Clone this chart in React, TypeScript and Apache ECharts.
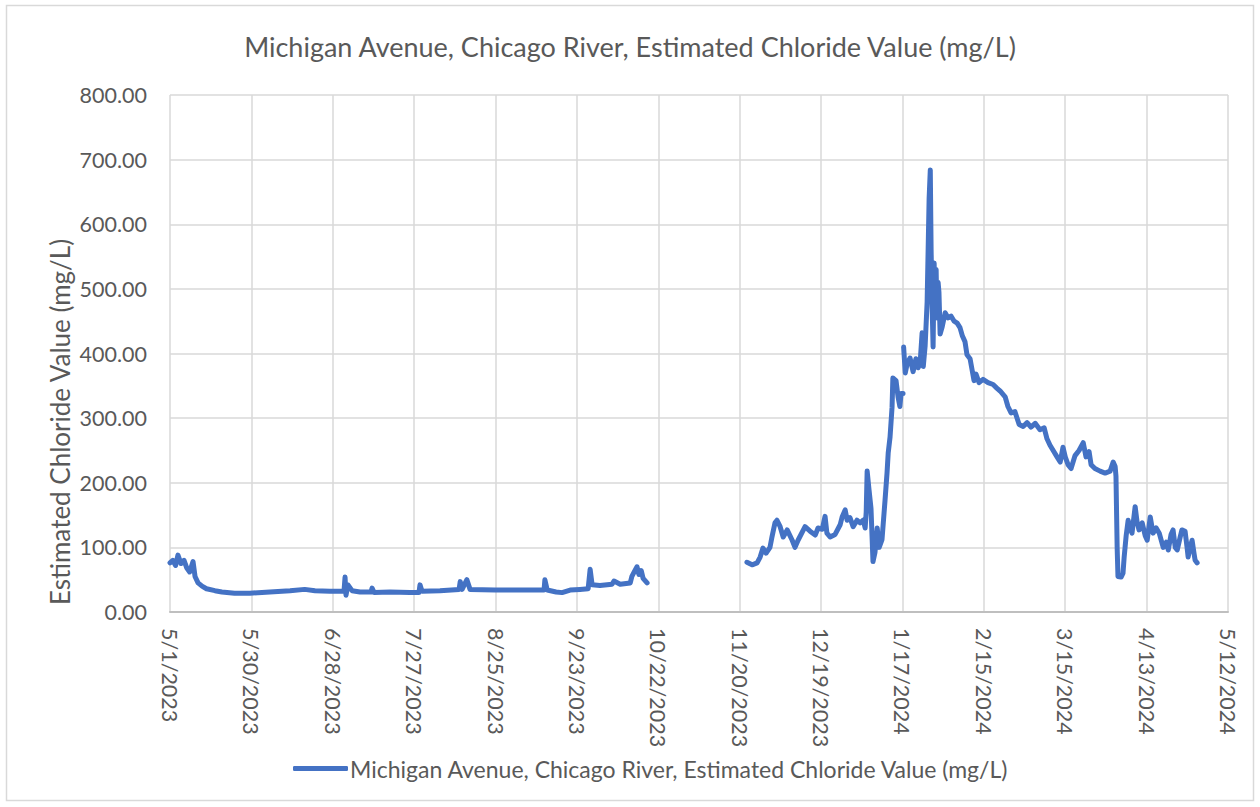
import React, { useEffect, useRef } from "react";
import * as echarts from "echarts";

const titleText = "Michigan Avenue, Chicago River, Estimated Chloride Value (mg/L)";
const yAxisTitle = "Estimated Chloride Value (mg/L)";
const startDate = "2023-05-01";
const axisDays = 377; // 5/1/2023 .. 5/12/2024
const tickStepDays = 29;
const yTicks = [0, 100, 200, 300, 400, 500, 600, 700, 800];

// Segment 1 (May - Oct 2023), gap, Segment 2 (Nov 2023 - May 2024)
const dates: string[] = [
  "2023-05-01", "2023-05-02", "2023-05-03", "2023-05-03 20:00", "2023-05-04 22:00", "2023-05-06",
  "2023-05-07", "2023-05-08", "2023-05-09 05:00", "2023-05-09 22:00", "2023-05-11", "2023-05-12 10:00",
  "2023-05-14", "2023-05-17", "2023-05-19 12:00", "2023-05-24", "2023-05-29 12:00", "2023-06-05 14:00",
  "2023-06-12 19:00", "2023-06-18", "2023-06-21 16:00", "2023-06-27", "2023-07-02", "2023-07-02 09:00",
  "2023-07-02 17:00", "2023-07-03 10:00", "2023-07-04 21:00", "2023-07-07 17:00", "2023-07-11 15:00",
  "2023-07-12", "2023-07-12 17:00", "2023-07-18 10:00", "2023-07-25 12:00", "2023-07-28 17:00",
  "2023-07-29 02:00", "2023-07-29 19:00", "2023-08-05 05:00", "2023-08-12", "2023-08-12 10:00",
  "2023-08-13 02:00", "2023-08-14 19:00", "2023-08-15 22:00", "2023-08-24 19:00", "2023-09-02 17:00",
  "2023-09-11 07:00", "2023-09-11 14:00", "2023-09-12 10:00", "2023-09-15 14:00", "2023-09-17 17:00",
  "2023-09-20 14:00", "2023-09-24 02:00", "2023-09-27", "2023-09-27 17:00", "2023-09-28 10:00",
  "2023-10-01 05:00", "2023-10-05 12:00", "2023-10-06 05:00", "2023-10-08 10:00", "2023-10-12",
  "2023-10-12 14:00", "2023-10-13 10:00", "2023-10-14 10:00", "2023-10-15 02:00", "2023-10-15 22:00",
  "2023-10-16 14:00", "2023-10-18",
  "2023-11-05",
  "2023-11-22 14:00", "2023-11-24 10:00", "2023-11-26 05:00", "2023-11-27 07:00", "2023-11-28 07:00",
  "2023-11-29 10:00", "2023-11-30 19:00", "2023-12-01 12:00", "2023-12-02 14:00", "2023-12-03 07:00",
  "2023-12-04 10:00", "2023-12-05 12:00", "2023-12-06 22:00", "2023-12-08 17:00", "2023-12-09 17:00",
  "2023-12-10 19:00", "2023-12-13 07:00", "2023-12-15 02:00", "2023-12-16 22:00", "2023-12-17 22:00",
  "2023-12-19 10:00", "2023-12-20 10:00", "2023-12-21 02:00", "2023-12-22 05:00", "2023-12-24",
  "2023-12-25 19:00", "2023-12-26 12:00", "2023-12-27 14:00", "2023-12-28 07:00", "2023-12-29 07:00",
  "2023-12-30 10:00", "2023-12-31 19:00", "2024-01-01 22:00", "2024-01-03", "2024-01-03 17:00",
  "2024-01-04 02:00", "2024-01-04 10:00", "2024-01-05 02:00", "2024-01-05 19:00", "2024-01-06 12:00",
  "2024-01-07 05:00", "2024-01-08", "2024-01-08 17:00", "2024-01-09 17:00", "2024-01-10 19:00",
  "2024-01-11 12:00", "2024-01-11 22:00", "2024-01-12 14:00", "2024-01-13 07:00", "2024-01-13 14:00",
  "2024-01-14 17:00", "2024-01-15 10:00", "2024-01-16 02:00", "2024-01-16 12:00", "2024-01-17 05:00",
  "2024-01-17 07:00",
  "2024-01-17 10:00", "2024-01-18", "2024-01-18 17:00", "2024-01-19 17:00", "2024-01-20 19:00",
  "2024-01-21 19:00", "2024-01-22 14:00", "2024-01-23 07:00", "2024-01-24", "2024-01-24 10:00",
  "2024-01-25 02:00", "2024-01-25 19:00", "2024-01-26 12:00", "2024-01-26 22:00", "2024-01-27 05:00",
  "2024-01-27 14:00", "2024-01-27 22:00", "2024-01-28 07:00", "2024-01-28 14:00", "2024-01-29",
  "2024-01-29 07:00", "2024-01-29 17:00", "2024-01-30", "2024-01-30 10:00", "2024-01-31 02:00",
  "2024-02-01 05:00", "2024-02-02 07:00", "2024-02-03 07:00", "2024-02-04 10:00", "2024-02-05 12:00",
  "2024-02-06 12:00", "2024-02-07 07:00", "2024-02-08 07:00", "2024-02-09", "2024-02-10 02:00",
  "2024-02-10 19:00", "2024-02-11 12:00", "2024-02-12 05:00", "2024-02-13 07:00", "2024-02-14 17:00",
  "2024-02-16 12:00", "2024-02-18 07:00", "2024-02-19 17:00", "2024-02-20 19:00", "2024-02-22 14:00",
  "2024-02-23 14:00", "2024-02-24 17:00", "2024-02-26 02:00", "2024-02-27 14:00", "2024-02-29",
  "2024-03-01 10:00", "2024-03-02 19:00", "2024-03-04 07:00", "2024-03-06", "2024-03-07 12:00",
  "2024-03-08 12:00", "2024-03-09 14:00", "2024-03-10 17:00", "2024-03-12 02:00", "2024-03-13 05:00",
  "2024-03-14 05:00", "2024-03-15", "2024-03-16", "2024-03-17 02:00", "2024-03-18 12:00",
  "2024-03-19 22:00", "2024-03-21 10:00", "2024-03-22 10:00", "2024-03-23 12:00", "2024-03-24 05:00",
  "2024-03-25 14:00", "2024-03-27 10:00", "2024-03-29 05:00", "2024-03-31", "2024-04-01 02:00",
  "2024-04-01 19:00", "2024-04-02 02:00", "2024-04-02 12:00", "2024-04-02 19:00", "2024-04-03 22:00",
  "2024-04-04 14:00", "2024-04-05", "2024-04-05 17:00", "2024-04-06 10:00", "2024-04-07 02:00",
  "2024-04-07 19:00", "2024-04-08 22:00", "2024-04-09 14:00", "2024-04-10 07:00", "2024-04-11 10:00",
  "2024-04-12 12:00", "2024-04-13 05:00", "2024-04-14 07:00", "2024-04-15 07:00", "2024-04-16 10:00",
  "2024-04-17 12:00", "2024-04-18 22:00", "2024-04-20", "2024-04-20 17:00", "2024-04-21 17:00",
  "2024-04-22 10:00", "2024-04-23 05:00", "2024-04-23 22:00", "2024-04-24 22:00", "2024-04-25 14:00",
  "2024-04-26 17:00", "2024-04-27 10:00", "2024-04-27 19:00", "2024-04-28 12:00", "2024-04-29 05:00",
  "2024-04-29 22:00", "2024-04-30 07:00", "2024-05-01",
];

const values: (number | null)[] = [
  76, 80, 72, 88, 75, 80,
  68, 62, 78, 55, 45, 40,
  36, 33, 31, 29, 29, 31,
  33, 35, 33, 32, 32, 54,
  26, 42, 33, 31, 31,
  37, 30, 31, 30, 30,
  42, 32, 33, 35, 47,
  35, 50, 35, 34, 34,
  34, 50, 34, 31, 30,
  34, 35, 36, 66, 42,
  41, 43, 48, 43, 45,
  55, 62, 70, 58, 64,
  52, 45,
  null,
  77, 73, 76, 85, 99,
  91, 100, 116, 138, 142,
  132, 116, 127, 111, 100,
  111, 132, 125, 119, 130,
  128, 148, 122, 116, 120,
  135, 147, 158, 142, 146,
  132, 142, 138, 142, 130,
  155, 218, 189, 160, 78,
  92, 130, 100, 112, 173,
  215, 246, 271, 317, 362,
  358, 333, 318, 338, 338,
  null,
  410, 370, 385, 393, 372,
  392, 378, 385, 432, 380,
  412, 480, 640, 684, 560,
  470, 410, 540, 470, 530,
  455, 510, 495, 430, 440,
  463, 455, 458, 450, 447,
  440, 428, 418, 398, 392,
  375, 358, 368, 355, 360,
  355, 352, 346, 342, 333,
  318, 308, 310, 290, 287,
  293, 286, 292, 282, 285,
  268, 258, 250, 240, 232,
  255, 240, 228, 222, 242,
  250, 262, 240, 248, 228,
  222, 218, 215, 218, 232,
  225, 210, 100, 55, 54,
  60, 85, 118, 142, 130,
  122, 163, 140, 127, 138,
  118, 111, 147, 122, 130,
  122, 100, 108, 96, 120,
  127, 100, 96, 115, 127,
  125, 100, 85, 100, 111,
  90, 80, 76,
];

const DAY = 86400000;

function parseUTC(s: string): number {
  const [d, t] = s.split(" ");
  const [y, m, dd] = d.split("-").map(Number);
  let h = 0, mi = 0;
  if (t) {
    const p = t.split(":").map(Number);
    h = p[0];
    mi = p[1] || 0;
  }
  return Date.UTC(y, m - 1, dd, h, mi);
}

const baseTs = parseUTC(startDate);

function dayLabel(v: number): string {
  const dt = new Date(baseTs + Math.round(v) * DAY);
  return `${dt.getUTCMonth() + 1}/${dt.getUTCDate()}/${dt.getUTCFullYear()}`;
}

const FONT = "Lato";
const TEXT_COLOR = "#595959";
const LINE_COLOR = "#4472C4";

export default function App() {
  const ref = useRef<HTMLDivElement>(null);
  useEffect(() => {
    if (!ref.current) return;
    const chart = echarts.init(ref.current, undefined, { renderer: "svg" });
    const seriesData = dates.map((d, i) => [
      (parseUTC(d) - baseTs) / DAY,
      values[i] === null ? "-" : values[i],
    ]);
    chart.setOption({
      animation: false,
      backgroundColor: "#ffffff",
      textStyle: { fontFamily: FONT },
      title: {
        text: titleText,
        left: "center",
        top: 28,
        textStyle: { fontFamily: FONT, fontSize: 27, fontWeight: "normal", color: TEXT_COLOR },
      },
      graphic: [
        {
          type: "rect",
          shape: { x: 6.5, y: 5.5, width: 1247, height: 795 },
          style: { fill: "none", stroke: "#d9d9d9", lineWidth: 1.5 },
          silent: true,
        },
        {
          type: "text",
          x: 60,
          y: 422,
          rotation: Math.PI / 2,
          style: {
            text: yAxisTitle,
            fontFamily: FONT,
            fontSize: 26,
            fill: TEXT_COLOR,
            align: "center",
            verticalAlign: "middle",
          },
          silent: true,
        },
      ],
      legend: {
        bottom: 22,
        left: 288,
        icon: "roundRect",
        itemWidth: 55,
        itemHeight: 5,
        itemGap: 5,
        textStyle: { fontFamily: FONT, fontSize: 23, color: TEXT_COLOR, padding: [0, 0, 0, -3] },
        data: [titleText],
      },
      grid: { left: 170, right: 32, top: 95, bottom: 195, containLabel: false },
      xAxis: {
        type: "value",
        min: 0,
        max: axisDays,
        interval: tickStepDays,
        axisLine: { show: true, lineStyle: { color: "#bfbfbf", width: 2 } },
        axisTick: { show: false },
        splitLine: { show: true, lineStyle: { color: "#d9d9d9", width: 1.5 } },
        axisLabel: {
          rotate: -90,
          margin: 16,
          fontFamily: FONT,
          fontSize: 21.5,
          color: TEXT_COLOR,
          formatter: (v: number) => dayLabel(v),
        },
      },
      yAxis: {
        type: "value",
        min: yTicks[0],
        max: yTicks[yTicks.length - 1],
        interval: yTicks[1] - yTicks[0],
        axisLine: { show: false },
        axisTick: { show: false },
        splitLine: { show: true, lineStyle: { color: "#d9d9d9", width: 1.5 } },
        axisLabel: {
          margin: 23,
          fontFamily: FONT,
          fontSize: 21.5,
          color: TEXT_COLOR,
          formatter: (v: number) => v.toFixed(2),
        },
      },
      series: [
        {
          name: titleText,
          type: "line",
          data: seriesData,
          symbol: "none",
          connectNulls: false,
          lineStyle: { color: LINE_COLOR, width: 5, join: "round", cap: "round" },
          itemStyle: { color: LINE_COLOR },
        },
      ],
    });
    return () => chart.dispose();
  }, []);
  return (
    <div
      ref={ref}
      style={{ position: "absolute", left: 0, top: 0, width: 1260, height: 807 }}
    />
  );
}
